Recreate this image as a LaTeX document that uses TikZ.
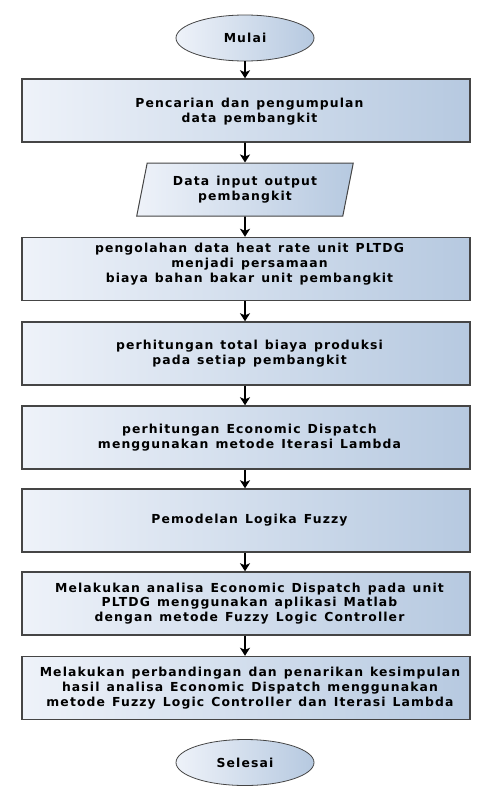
\documentclass[tikz,border=0pt]{standalone}
\usepackage{fontspec}
\setmainfont{DejaVu Sans}[BoldFont={DejaVu Sans Bold},LetterSpace=9,WordSpace=1.3]
\usetikzlibrary{shapes.geometric,arrows.meta}
\definecolor{lightfill}{HTML}{EEF2F9}
\definecolor{darkfill}{HTML}{B6C9E0}
\definecolor{edge}{HTML}{454545}
\tikzset{
  txt/.style={font=\fontsize{12.4}{14.8}\selectfont\bfseries, align=center, inner sep=0pt},
  procbox/.style={draw=edge, line width=1.4pt, left color=lightfill, right color=darkfill,
    minimum width=448pt, minimum height=63pt, inner sep=0pt},
  term/.style={ellipse, draw=edge, line width=0.8pt, left color=lightfill, right color=darkfill,
    minimum width=138pt, minimum height=46pt, inner sep=0pt, txt},
  iobox/.style={trapezium, trapezium left angle=74, trapezium right angle=106, draw=edge, line width=1pt,
    left color=lightfill, right color=darkfill, minimum width=217pt, minimum height=53pt,
    trapezium stretches=true, inner sep=0pt, txt},
  flow/.style={-{Stealth[length=8pt,width=10pt,inset=2pt]}, line width=1.6pt, black}
}
\begin{document}
\begin{tikzpicture}[x=1pt,y=-1pt]
\useasboundingbox (0,0) rectangle (491,797);
\node[term] (start) at (245,38) {Mulai};
\node[procbox] (b1) at (246,110.5) {};
\node[txt] (t1) at ([xshift=3.5pt,yshift=-1pt]b1.center) {Pencarian dan pengumpulan\\data pembangkit};
\node[iobox] (io) at (245,189.5) {Data input output\\pembangkit};
\node[procbox] (b3) at (246,269) {};
\node[txt] (t3) at ([xshift=3.5pt,yshift=5pt]b3.center) {pengolahan data heat rate unit PLTDG\\menjadi persamaan\\biaya bahan bakar unit pembangkit};
\node[procbox] (b4) at (246,353.5) {};
\node[txt] (t4) at ([xshift=3.5pt]b4.center) {perhitungan total biaya produksi\\pada setiap pembangkit};
\node[procbox] (b5) at (246,437.5) {};
\node[txt] (t5) at ([xshift=3.5pt]b5.center) {perhitungan Economic Dispatch\\menggunakan metode Iterasi Lambda};
\node[procbox] (b6) at (246,520.5) {};
\node[txt] (t6) at ([xshift=3.5pt]b6.center) {Pemodelan Logika Fuzzy};
\node[procbox] (b7) at (246,603.5) {};
\node[txt] (t7) at ([xshift=3.5pt]b7.center) {Melakukan analisa Economic Dispatch pada unit\\PLTDG menggunakan aplikasi Matlab\\dengan metode Fuzzy Logic Controller};
\node[procbox] (b8) at (246,688) {};
\node[txt] (t8) at ([xshift=4pt]b8.center) {Melakukan perbandingan dan penarikan kesimpulan\\hasil analisa Economic Dispatch menggunakan\\metode Fuzzy Logic Controller dan Iterasi Lambda};
\node[term] (end) at (245,762.5) {Selesai};
\draw[flow] (start) -- (start|-b1.north);
\draw[flow] (b1.south-|io) -- (io);
\draw[flow] (io) -- (io|-b3.north);
\draw[flow] (b3.south-|io) -- (io|-b4.north);
\draw[flow] (b4.south-|io) -- (io|-b5.north);
\draw[flow] (b5.south-|io) -- (io|-b6.north);
\draw[flow] (b6.south-|io) -- (io|-b7.north);
\draw[flow] (b7.south-|io) -- (io|-b8.north);
\end{tikzpicture}
\end{document}
